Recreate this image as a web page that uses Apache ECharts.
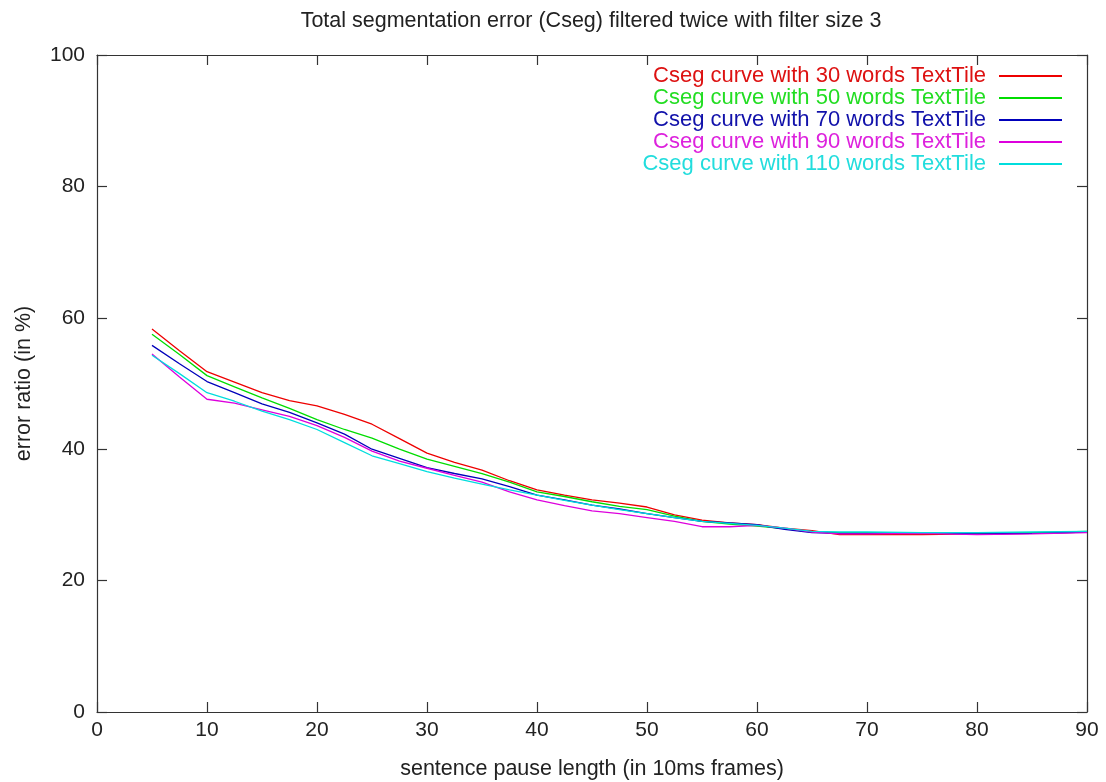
<!DOCTYPE html>
<html>
<head>
<meta charset="utf-8">
<script src="https://cdn.jsdelivr.net/npm/echarts@6/dist/echarts.min.js"></script>
<style>html,body{margin:0;padding:0;background:#fff;}#chart{width:1106px;height:782px;}</style>
</head>
<body>
<div id="chart"></div>
<script>
const pauseLength = [5,7.5,10,12.5,15,17.5,20,22.5,25,27.5,30,32.5,35,37.5,40,42.5,45,47.5,50,52.5,55,57.5,60,62.5,65,67.5,70,75,80,85,90];
const seriesNames = [
  'Cseg curve with 30 words TextTile',
  'Cseg curve with 50 words TextTile',
  'Cseg curve with 70 words TextTile',
  'Cseg curve with 90 words TextTile',
  'Cseg curve with 110 words TextTile'
];
const cseg30 = [58.3,55.0,51.8,50.2,48.6,47.4,46.6,45.3,43.8,41.6,39.4,38.0,36.8,35.2,33.8,33.0,32.3,31.8,31.2,30.0,29.2,28.8,28.5,28.0,27.6,27.0,27.0,27.0,27.1,27.2,27.4];
const cseg50 = [57.5,54.4,51.2,49.5,47.8,46.2,44.5,43.0,41.7,40.0,38.5,37.4,36.3,35.0,33.5,32.8,32.0,31.3,30.8,29.8,29.0,28.6,28.3,27.9,27.4,27.3,27.3,27.3,27.3,27.3,27.5];
const cseg70 = [55.8,53.0,50.3,48.6,46.9,45.6,44.0,42.3,40.0,38.6,37.2,36.3,35.5,34.3,33.0,32.3,31.5,30.9,30.2,29.6,29.0,28.8,28.5,27.8,27.3,27.2,27.2,27.3,27.1,27.2,27.4];
const cseg90 = [54.5,51.0,47.6,47.0,46.0,45.0,43.6,41.8,39.7,38.2,37.1,36.0,35.0,33.5,32.3,31.4,30.6,30.2,29.6,29.0,28.2,28.2,28.4,28.0,27.4,27.1,27.1,27.2,27.0,27.1,27.3];
const cseg110 = [54.3,51.5,48.6,47.3,45.8,44.5,43.0,41.0,39.0,37.8,36.6,35.6,34.7,33.8,33.0,32.2,31.5,30.8,30.2,29.6,29.0,28.7,28.4,28.0,27.5,27.4,27.4,27.3,27.3,27.4,27.5];
const xTicks = [0,10,20,30,40,50,60,70,80,90];
const yTicks = [0,20,40,60,80,100];

const allValues = [cseg30, cseg50, cseg70, cseg90, cseg110];
const colors = ['#ee0000', '#00dd00', '#0000bb', '#dd00dd', '#00dddd'];
const textColors = ['#dd1111', '#22dd22', '#1111aa', '#dd22dd', '#22dddd'];

const font = 'Liberation Sans, Arial, sans-serif';
const axisColor = '#333';
const tickCommon = { show: true, inside: true, length: 10, lineStyle: { color: axisColor, width: 1.2 } };
const lineCommon = { show: true, onZero: false, lineStyle: { color: axisColor, width: 1.2 } };

const series = allValues.map((vals, i) => ({
  name: seriesNames[i],
  type: 'line',
  xAxisIndex: 0,
  yAxisIndex: 0,
  showSymbol: false,
  symbol: 'none',
  smooth: false,
  lineStyle: { color: colors[i], width: 1.3 },
  itemStyle: { color: colors[i] },
  data: pauseLength.map((x, j) => [x, vals[j]])
}));

const chart = echarts.init(document.getElementById('chart'));
chart.setOption({
  animation: false,
  backgroundColor: '#fff',
  title: {
    text: 'Total segmentation error (Cseg) filtered twice with filter size 3',
    left: 591, top: 10, textAlign: 'center', padding: 0,
    textStyle: { fontFamily: font, fontSize: 21.5, fontWeight: 'normal', color: '#222' }
  },
  grid: { left: 97, right: 19, top: 55, bottom: 70, containLabel: false, outerBoundsMode: 'none' },
  legend: {
    orient: 'vertical',
    align: 'right',
    right: 44, top: 65, padding: 0,
    itemWidth: 63, itemHeight: 2, itemGap: 0,
    icon: 'rect',
    data: seriesNames.map((n, i) => ({ name: n, textStyle: { color: textColors[i] } })),
    textStyle: { fontFamily: font, fontSize: 22, lineHeight: 22, padding: [0, 8, 0, 0] }
  },
  xAxis: [
    {
      type: 'value', min: 0, max: 90, interval: 10, position: 'bottom',
      name: 'sentence pause length (in 10ms frames)', nameLocation: 'middle', nameGap: 46,
      nameTextStyle: { fontFamily: font, fontSize: 21.5, color: '#222' },
      axisLine: lineCommon, axisTick: tickCommon, splitLine: { show: false },
      axisLabel: { fontFamily: font, fontSize: 21, color: '#222', margin: 8,
        formatter: v => xTicks.includes(v) ? String(v) : '' }
    },
    {
      type: 'value', min: 0, max: 90, interval: 10, position: 'top',
      axisLine: lineCommon, axisTick: tickCommon, splitLine: { show: false },
      axisLabel: { show: false }
    }
  ],
  yAxis: [
    {
      type: 'value', min: 0, max: 100, interval: 20, position: 'left',
      name: 'error ratio (in %)', nameLocation: 'middle', nameGap: 62,
      nameTextStyle: { fontFamily: font, fontSize: 21.5, color: '#222' },
      axisLine: lineCommon, axisTick: tickCommon, splitLine: { show: false },
      axisLabel: { fontFamily: font, fontSize: 21, color: '#222', margin: 12,
        formatter: v => yTicks.includes(v) ? String(v) : '' }
    },
    {
      type: 'value', min: 0, max: 100, interval: 20, position: 'right',
      axisLine: lineCommon, axisTick: tickCommon, splitLine: { show: false },
      axisLabel: { show: false }
    }
  ],
  series: series
});
</script>
</body>
</html>
